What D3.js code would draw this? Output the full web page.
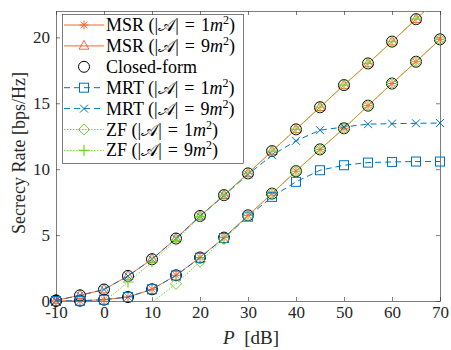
<!DOCTYPE html>
<html>
<head>
<meta charset="utf-8">
<script src="https://cdn.jsdelivr.net/npm/d3@7"></script>
<style>
body { margin:0; background:#fff; }
</style>
</head>
<body>
<div id="chart"></div>
<script>
var width = 451, height = 350;
var margin = {left:56, top:11, right:11, bottom:49};
var FONT = "'Liberation Serif'";

// DATA
var powerDb = [-10, -5, 0, 5, 10, 15, 20, 25, 30, 35, 40, 45, 50, 55, 60, 65, 70];
var msr1 = [0.0, 0.02, 0.1, 0.3, 0.89, 1.95, 3.3, 4.81, 6.5, 8.15, 9.85, 11.5, 13.1, 14.82, 16.5, 18.15, 19.85];
var msr9 = [0.05, 0.43, 0.87, 1.9, 3.17, 4.74, 6.45, 8.03, 9.68, 11.37, 13.02, 14.7, 16.38, 18.02, 19.68, 21.38, 23.05];
var closed1 = [0.0, 0.02, 0.1, 0.3, 0.89, 1.95, 3.3, 4.81, 6.5, 8.15, 9.85, 11.5, 13.1, 14.82, 16.5, 18.15, 19.85];
var closed9 = [0.05, 0.43, 0.87, 1.9, 3.17, 4.74, 6.45, 8.03, 9.68, 11.37, 13.02, 14.7, 16.38, 18.02, 19.68, 21.38, 23.05];
var mrt1 = [0.0, 0.02, 0.1, 0.3, 0.89, 1.93, 3.28, 4.78, 6.4, 7.9, 9.04, 9.92, 10.3, 10.5, 10.55, 10.58, 10.58];
var mrt9 = [0.05, 0.43, 0.87, 1.9, 3.17, 4.74, 6.43, 8.0, 9.6, 11.06, 12.15, 12.96, 13.2, 13.42, 13.45, 13.48, 13.5];
var zf1 = [null, null, null, null, -0.1, 1.3, 2.98, 4.7, 6.45, 8.15, 9.85, 11.5, 13.1, 14.82, 16.5, 18.15, 19.85];
var zf9 = [null, null, -0.06, 1.44, 2.96, 4.6, 6.4, 8.03, 9.68, 11.37, 13.02, 14.7, 16.38, 18.02, 19.68, 21.38, 23.05];
var xTicks = [-10, 0, 10, 20, 30, 40, 50, 60, 70];
var yTicks = [0, 5, 10, 15, 20];

var orange = "#ff6430", blue = "#0072bd", green = "#70d62a";

// series: name, values, colour, dash, marker
var series = [
  {label:"MSR", area:"1", values:msr1, color:orange, dash:null, marker:"asterisk"},
  {label:"MSR", area:"9", values:msr9, color:orange, dash:null, marker:"triangle"},
  {label:"Closed-form", area:null, values:closed1, color:"#000", dash:"none", marker:"circle"},
  {label:null, area:null, values:closed9, color:"#000", dash:"none", marker:"circle"},
  {label:"MRT", area:"1", values:mrt1, color:blue, dash:"6,4", marker:"square"},
  {label:"MRT", area:"9", values:mrt9, color:blue, dash:"6,4", marker:"cross"},
  {label:"ZF", area:"1", values:zf1, color:green, dash:"1.5,1.5", marker:"diamond"},
  {label:"ZF", area:"9", values:zf9, color:green, dash:"1.5,1.5", marker:"plus"}
];

// SCALES
var x = d3.scaleLinear().domain([-10, 70]).range([margin.left, width - margin.right]);
var y = d3.scaleLinear().domain([0, 22]).range([height - margin.bottom, margin.top]);

var svg = d3.select("#chart").append("svg")
  .attr("width", width).attr("height", height)
  .style("font-family", FONT);

svg.append("defs").append("clipPath").attr("id", "plotclip")
  .append("rect")
  .attr("x", x(-10)).attr("y", y(22))
  .attr("width", x(70) - x(-10)).attr("height", y(0) - y(22));

// AXES (box with inward ticks on all four sides)
var axisColor = "#262626";
var fmt = function(d) { return String(d); };
var xAxisB = d3.axisBottom(x).tickValues(xTicks).tickSizeInner(-4).tickSizeOuter(0).tickPadding(5).tickFormat(fmt);
var xAxisT = d3.axisTop(x).tickValues(xTicks).tickSizeInner(-4).tickSizeOuter(0).tickFormat("");
var yAxisL = d3.axisLeft(y).tickValues(yTicks).tickSizeInner(-4).tickSizeOuter(0).tickPadding(6).tickFormat(fmt);
var yAxisR = d3.axisRight(y).tickValues(yTicks).tickSizeInner(-4).tickSizeOuter(0).tickFormat("");

function styleAxis(g) {
  g.attr("font-family", null).attr("font-size", null);
  g.selectAll("path, line").attr("stroke", axisColor).attr("stroke-width", 0.6);
  g.selectAll("text").attr("fill", axisColor).style("font-size", "17px")
    .style("font-family", FONT);
}
svg.append("g").attr("transform", "translate(0," + y(0) + ")").call(xAxisB).call(styleAxis);
svg.append("g").attr("transform", "translate(0," + y(22) + ")").call(xAxisT).call(styleAxis);
svg.append("g").attr("transform", "translate(" + x(-10) + ",0)").call(yAxisL).call(styleAxis);
svg.append("g").attr("transform", "translate(" + x(70) + ",0)").call(yAxisR).call(styleAxis);

// LABELS
svg.append("text")
  .attr("transform", "translate(25,153) rotate(-90)")
  .attr("text-anchor", "middle")
  .attr("fill", axisColor)
  .style("font-family", FONT)
  .style("font-size", "18px")
  .text("Secrecy Rate [bps/Hz]");

var xl = svg.append("text")
  .attr("x", 251).attr("y", 344)
  .attr("text-anchor", "middle")
  .attr("fill", axisColor)
  .style("font-family", FONT)
  .style("font-size", "19px");
xl.append("tspan").style("font-style", "italic").text("P");
xl.append("tspan").text("\u2002[dB]");

// MARKERS
function drawMarker(g, type, color) {
  if (type === "circle") {
    g.append("circle").attr("r", 5.5).attr("fill", "none").attr("stroke", color).attr("stroke-width", 1);
  } else if (type === "triangle") {
    var r = 5.5;
    g.append("path").attr("d", "M0," + (-r) + "L" + (r * 0.9) + "," + (r * 0.6) + "L" + (-r * 0.9) + "," + (r * 0.6) + "Z")
      .attr("fill", "none").attr("stroke", color).attr("stroke-width", 1);
  } else if (type === "square") {
    var h = 4.5;
    g.append("rect").attr("x", -h).attr("y", -h).attr("width", 2 * h).attr("height", 2 * h)
      .attr("fill", "none").attr("stroke", color).attr("stroke-width", 1);
  } else if (type === "diamond") {
    var d = 5.5;
    g.append("path").attr("d", "M0," + (-d) + "L" + d + ",0L0," + d + "L" + (-d) + ",0Z")
      .attr("fill", "none").attr("stroke", color).attr("stroke-width", 1);
  } else if (type === "plus") {
    var p = 5.5;
    g.append("path").attr("d", "M" + (-p) + ",0H" + p + "M0," + (-p) + "V" + p)
      .attr("stroke", color).attr("stroke-width", 1.2);
  } else if (type === "cross") {
    var c = 4;
    g.append("path").attr("d", "M" + (-c) + "," + (-c) + "L" + c + "," + c + "M" + c + "," + (-c) + "L" + (-c) + "," + c)
      .attr("stroke", color).attr("stroke-width", 1);
  } else if (type === "asterisk") {
    var a = 4.5, b = a * 0.72;
    g.append("path").attr("d", "M" + (-a) + ",0H" + a + "M0," + (-a) + "V" + a +
      "M" + (-b) + "," + (-b) + "L" + b + "," + b + "M" + b + "," + (-b) + "L" + (-b) + "," + b)
      .attr("stroke", color).attr("stroke-width", 1);
  }
}

// LINES
var plot = svg.append("g");
var line = d3.line()
  .defined(function(d) { return d[1] !== null; })
  .x(function(d) { return x(d[0]); })
  .y(function(d) { return y(d[1]); });

series.forEach(function(s) {
  var pts = powerDb.map(function(p, i) { return [p, s.values[i]]; });
  if (s.dash !== "none") {
    plot.append("path")
      .datum(pts)
      .attr("clip-path", "url(#plotclip)")
      .attr("d", line)
      .attr("fill", "none")
      .attr("stroke", s.color)
      .attr("stroke-width", 1)
      .attr("stroke-dasharray", s.dash);
  }
  pts.filter(function(d) { return d[1] !== null && d[1] >= 0 && d[1] <= 22; })
    .forEach(function(d) {
      var g = plot.append("g").attr("transform", "translate(" + x(d[0]) + "," + y(d[1]) + ")");
      drawMarker(g, s.marker, s.color);
    });
});

// LEGEND
var legend = svg.append("g");
legend.append("rect")
  .attr("x", 62.5).attr("y", 14.5).attr("width", 181).attr("height", 149)
  .attr("fill", "#fff").attr("stroke", axisColor).attr("stroke-width", 0.6);

var legendItems = series.filter(function(s) { return s.label !== null; });
legendItems.forEach(function(s, i) {
  var yy = 25 + i * 20.9;
  var g = legend.append("g").attr("transform", "translate(0," + yy + ")");
  if (s.dash !== "none") {
    g.append("line").attr("x1", 64).attr("x2", 104).attr("y1", 0).attr("y2", 0)
      .attr("stroke", s.color).attr("stroke-width", 1)
      .attr("stroke-dasharray", s.dash);
  }
  var m = g.append("g").attr("transform", "translate(84,0)");
  drawMarker(m, s.marker, s.color);
  var t = g.append("text").attr("x", 106).attr("y", 6)
    .attr("fill", "#000")
    .style("font-family", FONT).style("font-size", "18px");
  t.append("tspan").text(s.label);
  if (s.area) {
    t.append("tspan").text(" (|");
    t.append("tspan").text("\u{1D49C}");
    t.append("tspan").text("|\u2004=\u2004" + s.area);
    t.append("tspan").style("font-style", "italic").text("m");
    t.append("tspan").attr("dy", -7).style("font-size", "12px").text("2");
    t.append("tspan").attr("dy", 7).text(")");
  }
});
</script>
</body>
</html>
